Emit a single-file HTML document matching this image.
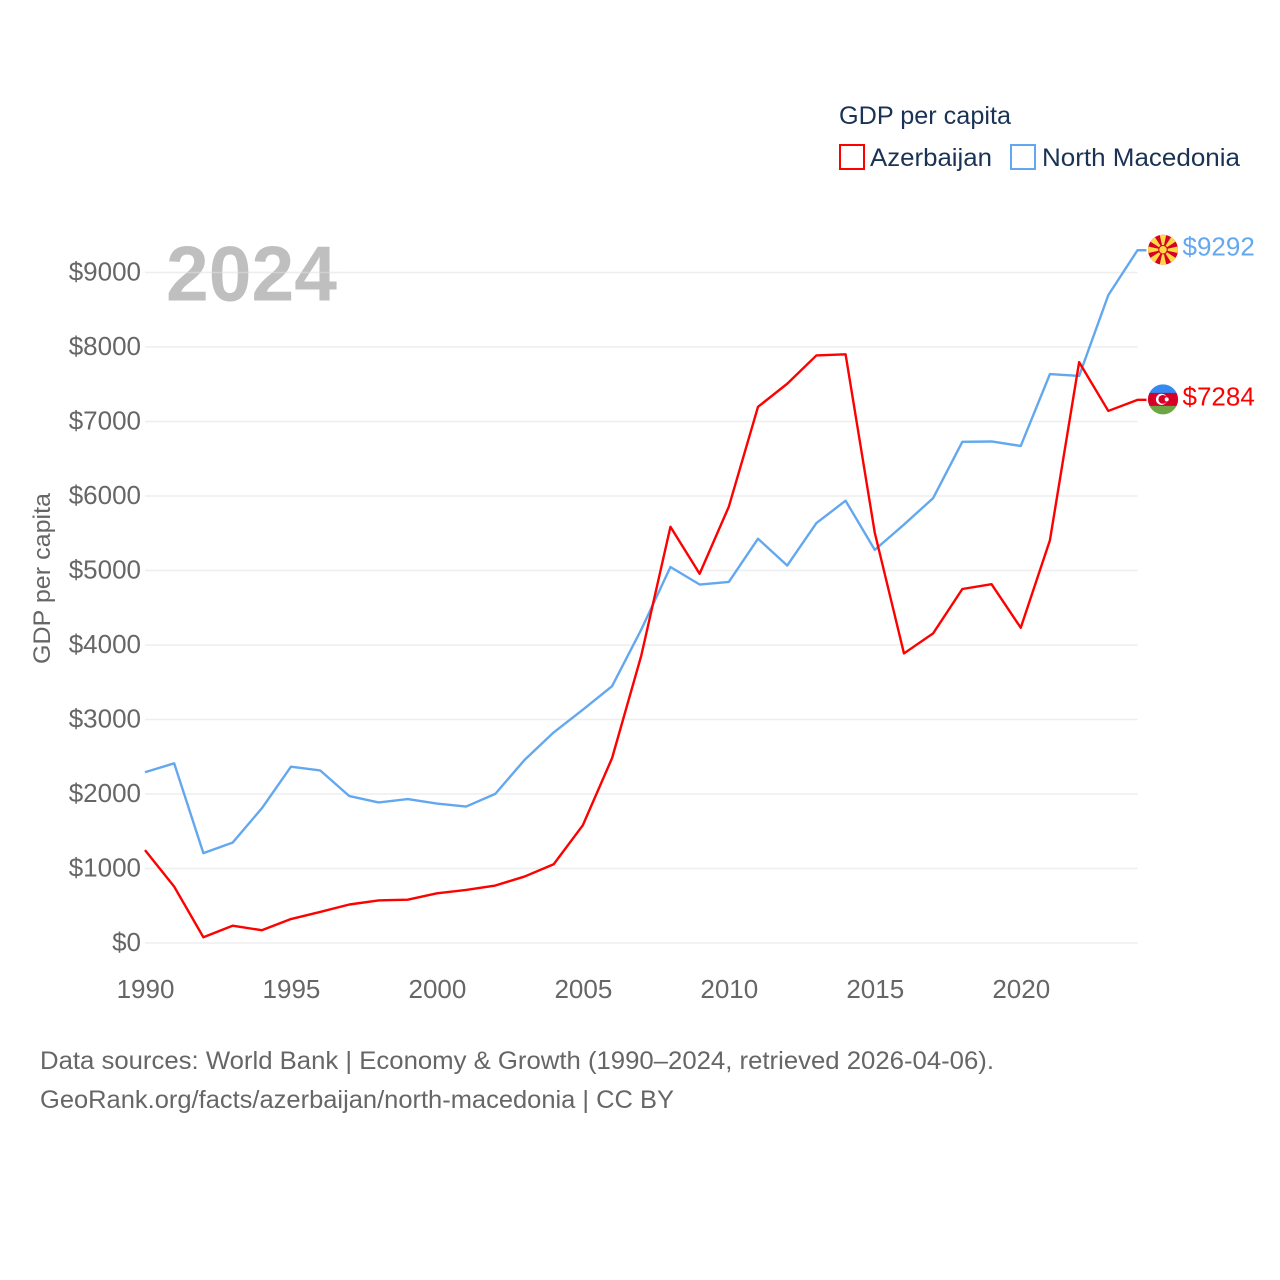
<!DOCTYPE html>
<html lang="en">
<head>
<meta charset="utf-8">
<title>GDP per capita: Azerbaijan and North Macedonia</title>
<style>
html,body{margin:0;padding:0;background:#fff;}
svg{display:block;}
text{font-family:"Liberation Sans",sans-serif;}
</style>
</head>
<body>
<svg id="chart" xmlns="http://www.w3.org/2000/svg" width="1280" height="1280" viewBox="0 0 1280 1280">
  <rect x="0" y="0" width="1280" height="1280" fill="#ffffff"/>
  <g id="grid"></g>
  <text x="166" y="300.5" font-size="78" font-weight="bold" fill="#bfbfbf" textLength="171" lengthAdjust="spacingAndGlyphs">2024</text>
  <g id="gridOverlay"></g>
  <g id="yticks"></g>
  <g id="xticks"></g>
  <text transform="translate(50,664) rotate(-90)" font-size="24" fill="#666666" textLength="171" lengthAdjust="spacingAndGlyphs">GDP per capita</text>
  <g id="series" transform="translate(0,-0.5)"></g>
  <g>
    <text x="839" y="124" font-size="25" fill="#1a3355" textLength="172" lengthAdjust="spacingAndGlyphs">GDP per capita</text>
    <rect x="840" y="145" width="24" height="24" fill="none" stroke="#ff0000" stroke-width="2"/>
    <text x="870" y="166" font-size="25" fill="#1a3355" textLength="122" lengthAdjust="spacingAndGlyphs">Azerbaijan</text>
    <rect x="1011" y="145" width="24" height="24" fill="none" stroke="#63a8ef" stroke-width="2"/>
    <text x="1042" y="166" font-size="25" fill="#1a3355" textLength="198" lengthAdjust="spacingAndGlyphs">North Macedonia</text>
  </g>
  <g id="flags"></g>
  <text x="40" y="1069" font-size="25" fill="#666666" textLength="954" lengthAdjust="spacingAndGlyphs">Data sources: World Bank | Economy &amp; Growth (1990–2024, retrieved 2026-04-06).</text>
  <text x="40" y="1108" font-size="25" fill="#666666" textLength="634" lengthAdjust="spacingAndGlyphs">GeoRank.org/facts/azerbaijan/north-macedonia | CC BY</text>
</svg>
<script>
const years = [1990,1991,1992,1993,1994,1995,1996,1997,1998,1999,2000,2001,2002,2003,2004,2005,2006,2007,2008,2009,2010,2011,2012,2013,2014,2015,2016,2017,2018,2019,2020,2021,2022,2023,2024];
const azerbaijan = [1240,750,70,225,165,315,410,510,565,575,660,705,765,885,1050,1575,2475,3850,5580,4950,5850,7190,7500,7880,7895,5500,3880,4150,4745,4810,4225,5400,7790,7135,7284];
const northMacedonia = [2285,2405,1200,1340,1800,2360,2310,1965,1880,1925,1865,1825,1995,2450,2820,3125,3440,4200,5040,4805,4840,5420,5060,5630,5930,5270,5610,5965,6720,6725,6665,7630,7605,8690,9292];
const yTickValues = [0,1000,2000,3000,4000,5000,6000,7000,8000,9000];
const xTickValues = [1990,1995,2000,2005,2010,2015,2020];

const NS = 'http://www.w3.org/2000/svg';
const x = function (year) { return 145 + (year - 1990) * (1137.5 - 145) / 34; };
const y = function (value) { return 943 - value * (943 - 272.5) / 9000; };
const make = function (tag, parent) {
  const el = document.createElementNS(NS, tag);
  parent.appendChild(el);
  return el;
};

const grid = document.getElementById('grid');
const yticks = document.getElementById('yticks');
yTickValues.forEach(function (v) {
  const line = make('line', grid);
  
  
  line.setAttribute('x1', 145);
  line.setAttribute('x2', x(2024));
  line.setAttribute('y1', y(v));
  line.setAttribute('y2', y(v));
  line.setAttribute('stroke', '#eeeeee');
  line.setAttribute('stroke-width', 1.6);
  const label = make('text', yticks);
  
  
  label.setAttribute('x', 141);
  label.setAttribute('y', y(v) + 8);
  label.setAttribute('text-anchor', 'end');
  label.setAttribute('font-size', 26);
  label.setAttribute('fill', '#666666');
  label.textContent = '$' + v;
});

const topTick = yTickValues[yTickValues.length - 1];
const overlay = make('line', document.getElementById('gridOverlay'));


overlay.setAttribute('x1', 166);
overlay.setAttribute('x2', 337);
overlay.setAttribute('y1', y(topTick));
overlay.setAttribute('y2', y(topTick));
overlay.setAttribute('stroke', '#eeeeee');
overlay.setAttribute('stroke-width', 1.6);
overlay.setAttribute('stroke-opacity', 0.4);

const xticks = document.getElementById('xticks');
xTickValues.forEach(function (yr) {
  const label = make('text', xticks);
  
  
  label.setAttribute('x', x(yr) + 0.5);
  label.setAttribute('y', 998);
  label.setAttribute('text-anchor', 'middle');
  label.setAttribute('font-size', 26);
  label.setAttribute('fill', '#666666');
  label.textContent = String(yr);
});

const series = document.getElementById('series');
const drawLine = function (values, color, name) {
  const path = make('path', series);
  
  
  let d = values.map(function (v, i) {
    return (i ? 'L' : 'M') + x(years[i]).toFixed(2) + ' ' + y(v).toFixed(2);
  }).join(' ');
  d += ' L' + (x(years[years.length - 1]) + 9).toFixed(2) + ' ' + y(values[values.length - 1]).toFixed(2);
  path.setAttribute('d', d);
  path.setAttribute('fill', 'none');
  path.setAttribute('stroke', color);
  path.setAttribute('stroke-width', 2.4);
  path.setAttribute('stroke-linejoin', 'round');
};
drawLine(northMacedonia, '#63a8ef', 'line-north-macedonia');
drawLine(azerbaijan, '#ff0000', 'line-azerbaijan');

const flags = document.getElementById('flags');
const endX = x(2024) + 25.5;
const endLabel = function (value, color, name) {
  const t = make('text', flags);
  
  
  t.setAttribute('x', endX + 19.5);
  t.setAttribute('y', y(value) + 5);
  t.setAttribute('font-size', 26);
  t.setAttribute('fill', color);
  t.textContent = '$' + value;
};

/* North Macedonia flag */
const mkValue = northMacedonia[northMacedonia.length - 1];
const mk = make('g', flags);


mk.setAttribute('transform', 'translate(' + endX + ',' + (y(mkValue) - 1) + ')');
const mkBase = make('circle', mk);
mkBase.setAttribute('r', 15);
mkBase.setAttribute('fill', '#d80027');
[0,45,90,135,180,225,270,315].forEach(function (angle) {
  const ray = make('path', mk);
  ray.setAttribute('d', 'M0 0 L-3.2 -14.65 A15 15 0 0 1 3.2 -14.65 Z');
  ray.setAttribute('fill', '#ffda44');
  ray.setAttribute('transform', 'rotate(' + angle + ')');
});
const mkSunRing = make('circle', mk);
mkSunRing.setAttribute('r', 4.8);
mkSunRing.setAttribute('fill', '#d80027');
const mkSun = make('circle', mk);
mkSun.setAttribute('r', 3.7);
mkSun.setAttribute('fill', '#ffda44');
endLabel(mkValue, '#63a8ef', 'end-label-north-macedonia');

/* Azerbaijan flag */
const azValue = azerbaijan[azerbaijan.length - 1];
const az = make('g', flags);


az.setAttribute('transform', 'translate(' + endX + ',' + (y(azValue) - 1) + ')');
const azBlue = make('path', az);
azBlue.setAttribute('d', 'M-15 0 A15 15 0 0 1 15 0 Z');
azBlue.setAttribute('fill', '#338af3');
const azGreen = make('path', az);
azGreen.setAttribute('d', 'M-15 0 A15 15 0 0 0 15 0 Z');
azGreen.setAttribute('fill', '#6da544');
const azRed = make('path', az);
azRed.setAttribute('d', 'M-13.52 -6.5 L13.52 -6.5 A15 15 0 0 1 13.52 6.5 L-13.52 6.5 A15 15 0 0 1 -13.52 -6.5 Z');
azRed.setAttribute('fill', '#d80027');
const azMoon = make('circle', az);
azMoon.setAttribute('r', 5.6);
azMoon.setAttribute('cx', -1.5);
azMoon.setAttribute('fill', '#ffffff');
const azMoonCut = make('circle', az);
azMoonCut.setAttribute('r', 4.4);
azMoonCut.setAttribute('cx', -0.2);
azMoonCut.setAttribute('fill', '#d80027');
const azStar = make('circle', az);
azStar.setAttribute('r', 2);
azStar.setAttribute('cx', 3.7);
azStar.setAttribute('fill', '#ffffff');
endLabel(azValue, '#ff0000', 'end-label-azerbaijan');
</script>
</body>
</html>
